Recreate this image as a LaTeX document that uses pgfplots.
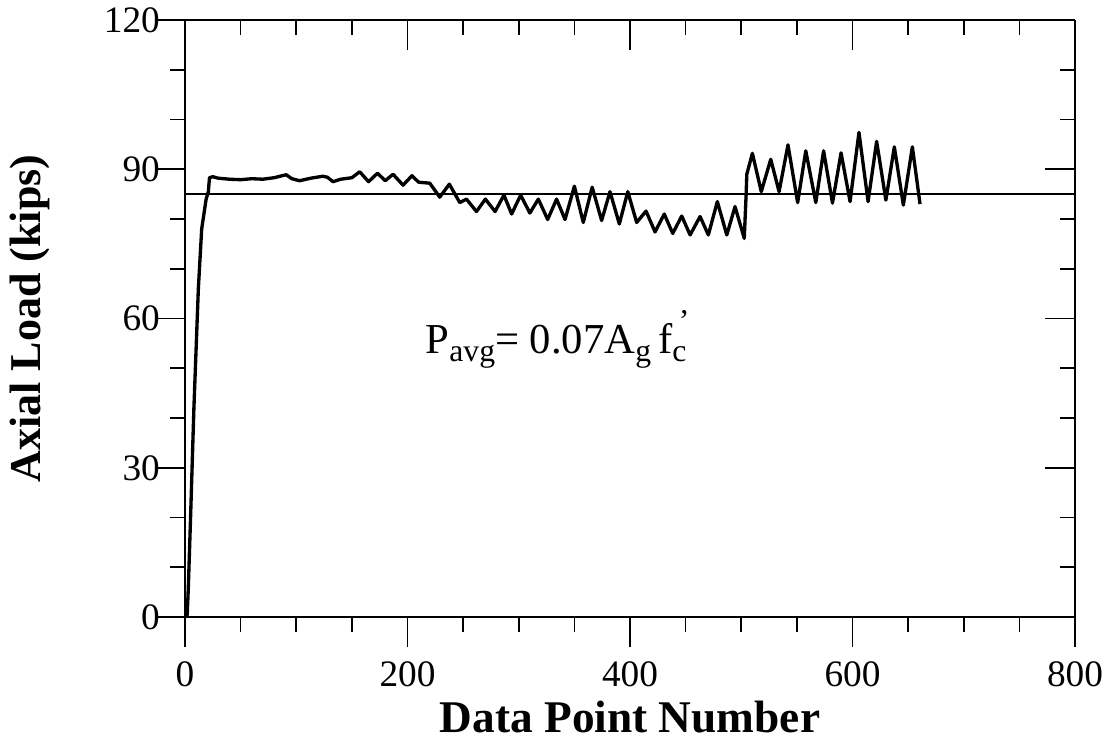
\documentclass[border=0pt]{standalone}
\usepackage{fontspec}
\setmainfont{Liberation Serif}
\usepackage{pgfplots}
\pgfplotsset{compat=1.18}
\begin{document}
\begin{tikzpicture}
\pgfplotsset{
  common/.style={
    width=267pt, height=179.1pt, scale only axis,
    xmin=0, xmax=800, ymin=0, ymax=120,
    xtick={0,200,...,800}, minor x tick num=3,
    ytick={0,30,...,120}, minor y tick num=2,
    major tick length=9pt, minor tick length=4.5pt,
    axis line style={line width=0.5pt,-},
    tick style={line width=0.5pt, black},
    /pgf/number format/assume math mode=true,
    ticklabel style={font=\fontsize{11.2}{13}\selectfont},
  }
}
\begin{axis}[common,
  axis x line*=bottom, axis y line*=left, tick align=outside,
  xticklabel style={yshift=-1pt},
  yticklabel style={xshift=5pt},
  xlabel={Data Point Number}, ylabel={Axial Load (kips)},
  xlabel style={font=\fontsize{13.6}{16}\selectfont\bfseries, at={(axis description cs:0.5,-0.168)}, anchor=center},
  ylabel style={font=\fontsize{13.2}{16}\selectfont\bfseries, at={(axis description cs:-0.174,0.5)}, anchor=center},
]
\addplot[line width=0.6pt] coordinates {(0,85) (800,85)};
\addplot[line width=1.0pt, line join=round] coordinates {
(1,0) (2,0.5) (3,6) (5,20) (8,42) (12,66) (15,78) (17,81) (19,84) (21,85.5) (22,88.3)
(25,88.5) (30,88.2) (40,88.0) (50,87.9) (60,88.1) (70,88.0) (80,88.3) (91,88.9) (96,88.1)
(103,87.7) (113,88.2) (124,88.6) (128,88.4) (133,87.5) (140,88) (150,88.3) (157,89.5)
(165,87.5) (173,89.2) (180,87.7) (187,89.0) (196,86.8) (204,88.7) (210,87.4) (220,87.2)
(229,84.4) (237.6,87.0) (247,83.3) (253,84.0) (262,81.5) (270,84.0) (278.7,81.5)
(286.7,84.8) (293.6,81.0) (301.7,84.8) (310,81.2) (317.6,84.0) (326,79.9) (334,84.0)
(341.6,79.9) (350,86.6) (358,79.3) (366,86.4) (374.5,79.7) (382,85.5) (390.4,79.0)
(398,85.5) (406,79.3) (414.4,81.6) (422.5,77.4) (430.8,81.0) (438.4,77.1) (446.5,80.6)
(454,76.8) (463,80.5) (470.4,76.8) (478.5,83.5) (487,76.8) (494.4,82.5) (502.7,76.1)
(504.3,84.5) (505,89) (510,93.2) (518,85.5) (526.5,92.0) (534,85.5) (542,94.9)
(550.7,83.3) (558,93.7) (567,83.3) (574,93.7) (582,83.2) (589.7,93.3) (597.8,83.5)
(605.8,97.4) (614,83.5) (621.7,95.6) (630,83.8) (637.6,94.5) (645.7,82.8) (653.8,94.5)
(660.7,83.0)
};
\node[anchor=base west, font=\fontsize{12.8}{15}\selectfont, inner sep=0pt] at (axis cs:215.7,53)
  {P\raisebox{-0.4ex}{\fontsize{9.5}{11}\selectfont avg}= 0.07A\raisebox{-0.4ex}{\fontsize{9.5}{11}\selectfont g}\,f\rlap{\raisebox{-0.4ex}{\fontsize{9.5}{11}\selectfont c}}\hspace{0.15em}\raisebox{1.1ex}{\fontsize{9.5}{11}\selectfont\char"0027}};
\end{axis}
\begin{axis}[common,
  axis x line*=top, axis y line*=right, tick align=inside,
  xticklabels={}, yticklabels={},
]
\end{axis}
\pgfresetboundingbox
\path ([shift={(-55.5pt,-37.5pt)}]current axis.south west) rectangle ([shift={(9.6pt,6pt)}]current axis.north east);
\end{tikzpicture}
\end{document}
